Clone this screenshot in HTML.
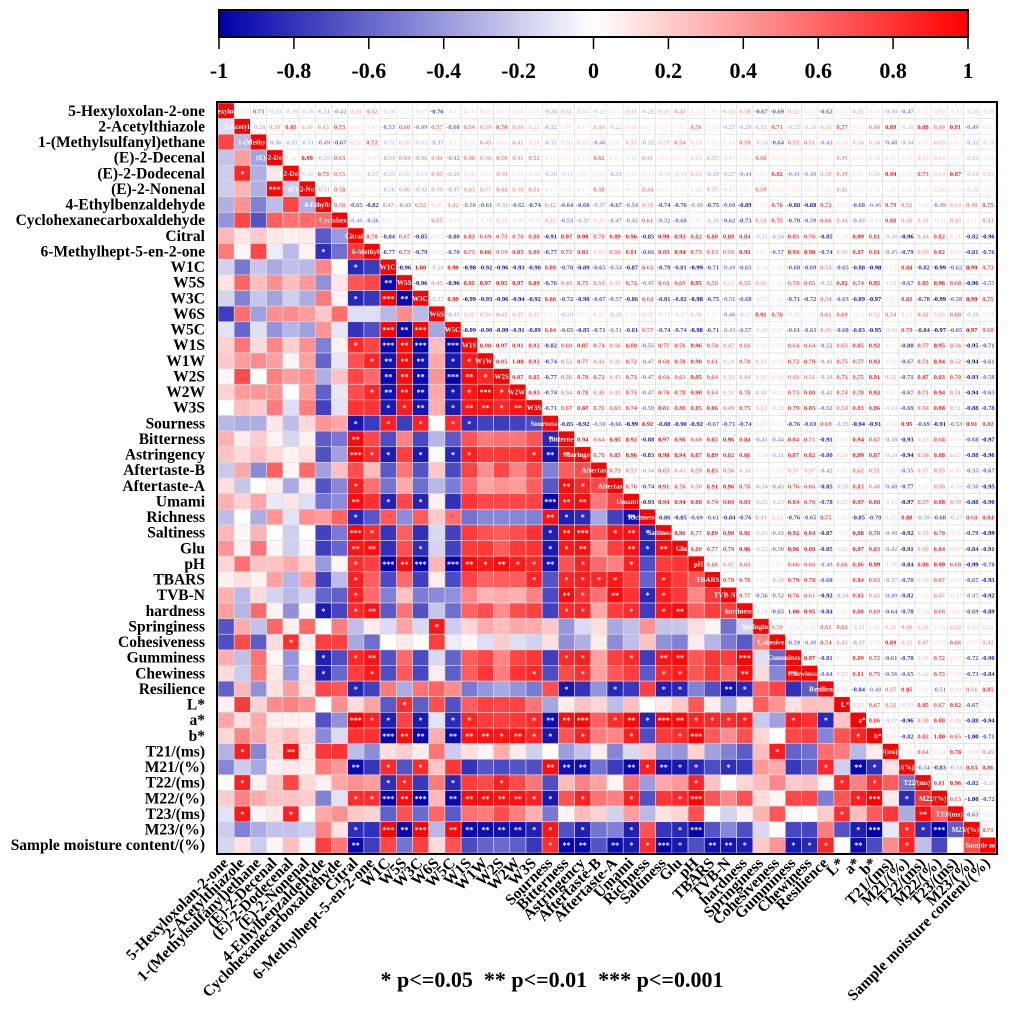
<!DOCTYPE html>
<html><head><meta charset="utf-8"><style>
html,body{margin:0;padding:0;background:#fff;}
svg{display:block;font-family:"Liberation Serif",serif;font-weight:bold;}
</style></head><body>
<svg id="chart" width="1014" height="1014" viewBox="0 0 1014 1014" xmlns="http://www.w3.org/2000/svg">
<defs>
<linearGradient id="cbar" x1="0" x2="1" y1="0" y2="0">
<stop offset="0" stop-color="rgb(0,0,170)"/><stop offset="0.5" stop-color="#ffffff"/><stop offset="1" stop-color="rgb(255,0,0)"/>
</linearGradient>
</defs>
<g id="colorbar"></g>
<g id="cells"></g>
<g id="ylabels"></g>
<g id="xlabels"></g>
<rect x="217" y="102" width="780" height="752" fill="none" stroke="#000" stroke-width="2"/>
<text x="552" y="987" font-size="22" text-anchor="middle" xml:space="preserve">* p&lt;=0.05  ** p&lt;=0.01  *** p&lt;=0.001</text>
</svg>
<script>
const labels = ["5-Hexyloxolan-2-one","2-Acetylthiazole","1-(Methylsulfanyl)ethane","(E)-2-Decenal","(E)-2-Dodecenal","(E)-2-Nonenal","4-Ethylbenzaldehyde","Cyclohexanecarboxaldehyde","Citral","6-Methylhept-5-en-2-one","W1C","W5S","W3C","W6S","W5C","W1S","W1W","W2S","W2W","W3S","Sourness","Bitterness","Astringency","Aftertaste-B","Aftertaste-A","Umami","Richness","Saltiness","Glu","pH","TBARS","TVB-N","hardness","Springiness","Cohesiveness","Gumminess","Chewiness","Resilience","L*","a*","b*","T21/(ms)","M21/(%)","T22/(ms)","M22/(%)","T23/(ms)","M23/(%)","Sample moisture content/(%)"];
const cbTicks = [-1,-0.8,-0.6,-0.4,-0.2,0,0.2,0.4,0.6,0.8,1];
// upper triangle: row i lists r(i,j) for j>i
const upper = [
[-0.13,0.73,-0.23,-0.20,-0.20,-0.31,-0.42,0.28,0.52,-0.18,0.11,-0.17,-0.76,-0.11,0.18, 0.21,0.03,0.18,0.00,-0.28,0.31,0.24,-0.21,0.13,0.31,-0.26,0.28,0.42,0.16,0.06,0.31, 0.38,-0.67,-0.69,0.32,0.14,-0.62,0.05,0.35,0.16,-0.30,-0.47,0.00,0.20,-0.11,-0.20,-0.16],
[-0.28,0.39,0.85,0.30,0.43,0.73,0.10,0.03,-0.53,0.60,-0.49,0.57,-0.60,0.54, 0.39,0.70,0.39,0.25,-0.32,0.08,0.15,0.34,-0.22,0.18,0.00,0.03,0.05,0.56,0.12,-0.27, -0.29,0.33,0.71,-0.25,-0.20,0.28,0.77,0.12,0.48,0.89,-0.20,0.88,0.49,0.91,-0.49,0.11],
[-0.36,-0.31,-0.31,-0.49,-0.67,0.21,0.72,-0.22,0.26,-0.22,-0.37,-0.12,0.14, 0.45,0.00,0.41,0.20,-0.32,0.20,0.25,-0.46,0.00,0.35,-0.32,0.29,0.54,0.24,0.05,0.14, 0.59,-0.24,-0.64,0.55,0.51,-0.43,0.18,0.34,0.34,-0.48,-0.34,0.06,0.33,0.03,-0.32,-0.20],
[0.10,0.99,-0.26,0.63,0.09,-0.07,-0.33,0.44,-0.36,0.44,-0.42,0.48, 0.38,0.50,0.41,0.52,0.10,0.05,0.14,0.62,0.07,-0.09,0.41,0.00,0.04,0.24,0.37,-0.17, 0.05,0.60,0.14,0.03,0.09,0.12,0.45,0.07,0.18,0.16,0.06,0.23,0.24,0.09,-0.24,0.04],
[-0.20,0.73,0.55,0.06,-0.27,-0.25,0.26,-0.19,0.45,-0.29,0.19, 0.04,0.38,0.00,-0.13,-0.26,-0.16,0.05,0.04,-0.33,0.10,-0.11,-0.19,-0.19,0.33,-0.29,-0.27, -0.44,0.06,0.82,-0.41,-0.40,0.38,0.49,0.06,0.26,0.94,0.09,0.73,0.24,0.87,-0.24,0.25],
[-0.31,0.58,0.07,0.05,-0.28,0.40,-0.32,0.39,-0.37,0.43, 0.37,0.44,0.39,0.51,0.15,0.06,0.12,0.58,0.07,-0.13,0.44,0.00,0.04,0.18,0.37,-0.17, 0.03,0.59,0.06,0.00,0.11,0.10,0.41,0.05,0.14,0.07,0.06,0.15,0.20,0.00,-0.20,0.04],
[0.58,-0.65,-0.82,0.47,-0.43,0.52,0.21,0.42,-0.50, -0.61,-0.31,-0.62,-0.74,0.42,-0.64,-0.68,-0.37,-0.67,-0.54,0.39,-0.74,-0.76,-0.40,-0.75,-0.60, -0.89,0.00,0.76,-0.88,-0.88,0.72,0.00,-0.68,-0.46,0.79,0.51,0.06,-0.49,0.34,0.48,0.75],
[-0.40,-0.56,0.00,0.10,0.05,0.57,-0.10,0.06, -0.10,0.24,-0.09,-0.11,0.35,-0.53,-0.37,0.25,-0.47,-0.45,0.61,-0.52,-0.60,0.04,-0.26,-0.62, -0.73,0.51,0.75,-0.70,-0.59,0.66,0.44,-0.43,-0.14,0.80,0.40,0.34,-0.11,0.43,0.11,0.53],
[0.78,-0.84,0.67,-0.85,-0.13,-0.80,0.83, 0.69,0.73,0.70,0.80,-0.91,0.97,0.99,0.70,0.89,0.96,-0.85,0.99,0.93,0.82,0.88,0.88, 0.84,-0.25,-0.34,0.85,0.76,-0.85,0.14,0.99,0.81,-0.26,-0.96,0.44,0.82,0.21,-0.82,-0.96],
[-0.77,0.73,-0.79,-0.13,-0.70,0.73, 0.86,0.59,0.85,0.80,-0.77,0.72,0.83,0.27,0.56,0.81,-0.66,0.83,0.94,0.75,0.63,0.58, 0.93,0.07,-0.57,0.93,0.90,-0.74,0.36,0.87,0.81,-0.45,-0.79,0.39,0.82,0.17,-0.81,-0.76],
[-0.96,1.00,-0.28,0.99,-0.98, -0.92,-0.96,-0.93,-0.90,0.89,-0.70,-0.89,-0.65,-0.54,-0.87,0.65,-0.79,-0.81,-0.99,-0.71,-0.49, -0.65,-0.14,0.00,-0.68,-0.69,0.52,-0.65,-0.88,-0.98,0.12,0.84,-0.82,-0.99,-0.62,0.99,0.73],
[-0.96,0.45,-0.96,0.95, 0.97,0.95,0.97,0.89,-0.76,0.49,0.75,0.54,0.33,0.72,-0.45,0.63,0.69,0.95,0.58,0.24, 0.55,0.36,0.08,0.59,0.65,-0.32,0.82,0.74,0.95,0.19,-0.67,0.85,0.96,0.68,-0.96,-0.55],
[-0.27,0.99,-0.99, -0.93,-0.96,-0.94,-0.92,0.88,-0.72,-0.90,-0.67,-0.57,-0.86,0.64,-0.81,-0.82,-0.98,-0.75,-0.51, -0.68,-0.15,0.00,-0.71,-0.72,0.54,-0.63,-0.89,-0.97,0.07,0.83,-0.78,-0.99,-0.58,0.99,0.75],
[-0.35,0.26, 0.34,0.42,0.35,0.32,0.00,-0.29,0.02,0.22,-0.28,0.06,0.20,-0.15,-0.17,0.30,0.07,-0.46, -0.22,0.91,0.76,-0.15,0.07,0.61,0.69,-0.11,0.32,0.54,0.23,0.52,0.28,0.60,-0.28,0.14],
[-0.99, -0.90,-0.99,-0.91,-0.89,0.84,-0.65,-0.85,-0.71,-0.51,-0.81,0.57,-0.74,-0.74,-0.98,-0.71,-0.43, -0.57,-0.20,-0.07,-0.61,-0.63,0.45,-0.68,-0.83,-0.95,-0.20,0.79,-0.84,-0.97,-0.65,0.97,0.68],
[0.90,0.97,0.91,0.92,-0.82,0.68,0.87,0.74,0.56,0.80,-0.55,0.77,0.76,0.96,0.74,0.47, 0.61,0.16,0.03,0.64,0.64,-0.52,0.63,0.85,0.92,0.12,-0.80,0.77,0.95,0.56,-0.95,-0.71],
[0.85,1.00,0.92,-0.74,0.52,0.77,0.44,0.36,0.72,-0.47,0.68,0.78,0.90,0.61,0.29, 0.70,0.33,-0.13,0.72,0.79,-0.41,0.75,0.77,0.93,0.04,-0.67,0.71,0.94,0.52,-0.94,-0.61],
[0.87,0.85,-0.77,0.56,0.78,0.72,0.43,0.73,-0.47,0.64,0.63,0.95,0.64,0.33, 0.44,0.26,0.20,0.48,0.51,-0.34,0.73,0.75,0.91,0.32,-0.71,0.87,0.93,0.70,-0.93,-0.58],
[0.93,-0.74,0.54,0.78,0.48,0.39,0.73,-0.47,0.70,0.78,0.90,0.64,0.31, 0.70,0.34,-0.13,0.73,0.80,-0.42,0.74,0.78,0.93,0.07,-0.67,0.71,0.94,0.51,-0.94,-0.63],
[-0.71,0.67,0.87,0.71,0.63,0.74,-0.50,0.81,0.80,0.85,0.86,0.49, 0.75,0.33,-0.18,0.79,0.85,-0.52,0.54,0.83,0.86,-0.19,-0.69,0.54,0.88,0.31,-0.88,-0.78],
[-0.85,-0.92,-0.50,-0.66,-0.99,0.92,-0.88,-0.90,-0.92,-0.67,-0.71, -0.74,0.21,0.12,-0.76,-0.69,0.69,-0.35,-0.94,-0.91,0.00,0.95,-0.69,-0.91,-0.53,0.91,0.82],
[0.94,0.64,0.95,0.92,-0.88,0.97,0.90,0.68,0.85,0.96, 0.84,-0.41,-0.44,0.84,0.71,-0.91,0.08,0.94,0.67,-0.38,-0.93,0.27,0.68,0.04,-0.68,-0.97],
[0.70,0.85,0.96,-0.83,0.98,0.94,0.87,0.89,0.82, 0.86,-0.14,-0.31,0.87,0.82,-0.80,0.24,0.99,0.87,-0.24,-0.94,0.50,0.88,0.27,-0.88,-0.96],
[0.73,0.53,-0.34,0.63,0.43,0.59,0.85,0.56, 0.34,0.13,0.08,0.37,0.37,-0.42,0.17,0.62,0.51,0.07,-0.55,0.37,0.55,0.18,-0.55,-0.67],
[0.76,-0.74,0.91,0.76,0.50,0.91,0.96, 0.76,-0.34,-0.45,0.76,0.66,-0.85,-0.26,0.83,0.48,-0.48,-0.77,0.04,0.50,-0.18,-0.50,-0.95],
[-0.93,0.94,0.94,0.88,0.74,0.80, 0.83,-0.25,-0.25,0.84,0.76,-0.78,0.25,0.97,0.88,-0.15,-0.97,0.57,0.88,0.39,-0.88,-0.90],
[-0.86,-0.85,-0.69,-0.61,-0.84, -0.76,0.43,0.24,-0.76,-0.65,0.75,0.00,-0.85,-0.70,0.21,0.88,-0.39,-0.68,-0.27,0.68,0.84],
[0.96,0.77,0.89,0.90, 0.91,-0.23,-0.43,0.92,0.84,-0.87,0.08,0.98,0.78,-0.40,-0.92,0.35,0.79,0.11,-0.79,-0.99],
[0.80,0.77,0.79, 0.96,-0.22,-0.50,0.96,0.89,-0.85,0.21,0.97,0.83,-0.42,-0.91,0.40,0.84,0.17,-0.84,-0.91],
[0.66,0.47, 0.63,0.12,0.07,0.66,0.66,-0.49,0.66,0.86,0.99,0.18,-0.84,0.86,0.99,0.69,-0.99,-0.70],
[0.78, 0.76,0.05,-0.29,0.79,0.78,-0.68,0.07,0.84,0.65,-0.37,-0.70,0.24,0.67,0.00,-0.67,-0.93],
[0.77,-0.56,-0.52,0.76,0.61,-0.92,-0.34,0.83,0.45,-0.49,-0.82,0.00,0.47,-0.17,-0.47,-0.92],
[-0.18,-0.65,1.00,0.95,-0.84,0.07,0.88,0.69,-0.64,-0.78,0.16,0.69,0.06,-0.69,-0.89],
[0.50,-0.12,0.14,0.61,0.63,-0.21,0.16,0.26,0.40,0.26,0.14,0.30,-0.15,0.21],
[-0.59,-0.48,0.74,0.42,-0.37,0.00,0.89,0.33,0.47,0.03,0.66,0.00,0.42],
[0.97,-0.81,0.11,0.89,0.72,-0.61,-0.78,0.20,0.72,0.02,-0.72,-0.90],
[-0.64,0.25,0.81,0.75,-0.56,-0.65,0.24,0.73,0.00,-0.73,-0.84],
[0.23,-0.84,-0.48,0.57,0.85,0.04,-0.51,0.20,0.51,0.85],
[0.23,0.67,0.52,-0.19,0.85,0.67,0.82,-0.67,0.00],
[0.86,-0.27,-0.96,0.50,0.88,0.26,-0.88,-0.94],
[0.09,-0.82,0.82,1.00,0.65,-1.00,-0.71],
[0.14,0.64,0.08,0.78,-0.09,0.45],
[-0.54,-0.83,-0.33,0.83,0.86],
[0.81,0.96,-0.82,-0.25],
[0.63,-1.00,-0.72],
[-0.63,0.00],
[0.71]
];

const NS="http://www.w3.org/2000/svg";
const N = labels.length;
const X0=218, X1=996, Y0=103, Y1=853;
const cw=(X1-X0)/N, ch=(Y1-Y0)/N;
const xPos = j => X0 + j*cw;
const yPos = i => Y0 + i*ch;
function r(i,j){ if(i===j) return 1; if(i>j){const t=i;i=j;j=t;} return upper[i][j-i-1]; }
function color(v){
  v=Math.max(-1,Math.min(1,v));
  if(v>=0){const k=Math.round(255*(1-v));return `rgb(255,${k},${k})`;}
  const a=-v; return `rgb(${Math.round(255*(1-a))},${Math.round(255*(1-a))},${Math.round(255-85*a)})`;
}
function mk(tag,attrs,parent){const e=document.createElementNS(NS,tag);for(const k in attrs)e.setAttribute(k,attrs[k]);parent.appendChild(e);return e;}

// colorbar
const cb=document.getElementById('colorbar');
const CBX0=219, CBX1=968;
const cbx = v => CBX0 + (v+1)/2*(CBX1-CBX0);
const cbRect=mk('rect',{x:CBX0,y:10,width:CBX1-CBX0,height:27,fill:'url(#cbar)',stroke:'#000','stroke-width':2},cb);


cbTicks.forEach(t=>{
  const ln=mk('line',{x1:cbx(t),x2:cbx(t),y1:37,y2:49,stroke:'#000','stroke-width':1.5},cb);
  
  
  const tx=mk('text',{x:cbx(t),y:78,'font-size':22,'text-anchor':'middle'},cb);
  tx.textContent=String(t);
  
  
});

// cells
const g=document.getElementById('cells');
for(let i=0;i<N;i++){
  for(let j=0;j<N;j++){
    const v=r(i,j);
    const x=xPos(j), y=yPos(i);
    if(i>j){
      const rc=mk('rect',{x:x,y:y,width:cw,height:ch,fill:color(v),stroke:'#dcdcdc','stroke-width':0.6},g);
      
      
      const a=Math.abs(v);
      const st = a>=0.974?'***':a>=0.917?'**':a>=0.811?'*':'';
      if(st){
        const t=mk('text',{x:x+cw/2,y:y+ch/2+3,'font-size':8,'text-anchor':'middle',fill:'#fff'},g);
        t.textContent=st;
        
        
      }
    } else if(i<j){
      const rc=mk('rect',{x:x,y:y,width:cw,height:ch,fill:'#fff',stroke:'#dcdcdc','stroke-width':0.6},g);
      
      
      const t=mk('text',{x:x+cw/2,y:y+ch/2+2.5,'font-size':6.5,'text-anchor':'middle',fill:v>=0?'rgb(255,0,0)':'rgb(0,0,170)','fill-opacity':Math.max(0.12,Math.abs(v))},g);
      t.textContent=v.toFixed(2);
      
      
    } else {
      const rc=mk('rect',{x:x,y:y,width:cw,height:ch,fill:'rgb(255,0,0)',stroke:'#dcdcdc','stroke-width':0.6},g);
      
      
      const t=mk('text',{x:x+cw-1,y:y+ch/2+2.5,'font-size':7,'text-anchor':'end',fill:'#fff'},g);
      t.textContent=labels[i].slice(0,Math.min(labels[i].length,8));
      
      
    }
  }
}

// y labels
const yl=document.getElementById('ylabels');
labels.forEach((l,i)=>{
  const t=mk('text',{x:205,y:yPos(i)+ch/2+5,'font-size':15.5,'text-anchor':'end'},yl);
  t.textContent=l;
  
  
});
// x labels
const xl=document.getElementById('xlabels');
labels.forEach((l,j)=>{
  const cx=xPos(j)+cw/2+3, cy=864;
  const t=mk('text',{x:cx,y:cy,'font-size':15.5,'text-anchor':'end',transform:`rotate(-45 ${cx} ${cy})`},xl);
  t.textContent=l;
  
  
});
</script>
</body></html>
